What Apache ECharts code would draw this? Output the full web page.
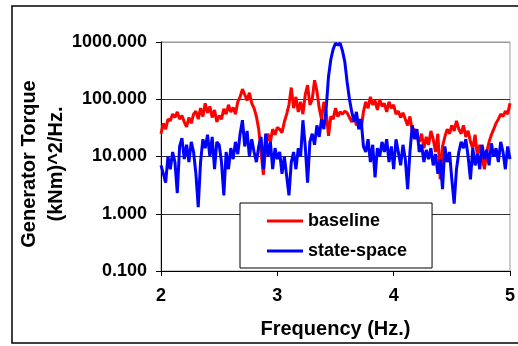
<!DOCTYPE html>
<html><head><meta charset="utf-8">
<script src="https://cdn.jsdelivr.net/npm/echarts@6/dist/echarts.min.js"></script>
<style>html,body{margin:0;padding:0;background:#fff}#c{width:518px;height:346px}</style>
</head><body><div id="c"></div>
<script>
var baseline = [25,38,30,45,42,55,48,60,45,52,40,
33,48,38,55,62,45,70,50,85,58,
75,48,65,40,52,45,68,55,80,60,
72,55,90,110,150,120,95,130,85,70,
50,30,12,4.8,15,25,18,30,24,32,
30,26,40,55,80,160,70,110,60,90,
55,120,176,80,100,215,140,70,45,90,
60,23,50,45,70,50,60,55,62,58,
48,40,52,35,45,30,60,90,70,110,
80,95,65,100,75,85,60,90,70,80,
55,62,48,58,45,35,50,28,30,22,
18,25,14,22,16,28,20,12,25,4,
15,22,30,25,35,28,42,30,25,35,
22,28,18,14,24,10,16,10,6,12,
18,24,30,38,45,55,50,62,55,85];
var stateSpace = [7,5,3.5,10,6,12,8,2.3,15,21,
9,16,8,18,12,5,1.3,8,20,14,24,
10,22,6,18,16,8,2.1,12,6,14,
9,18,11,25,43,15,28,10,20,12,
8,15,22,6,25,10,18,6,14,9,
12,5,10,4.6,2.1,8,12,6,14,10,
43,15,3.5,18,25,16,35,22,45,30,
70,250,500,750,950,880,950,700,450,200,
100,60,40,60,30,45,15,12,20,8,
16,4.3,14,10,18,12,20,8,15,6,
20,12,7,16,9,2.7,12,35,20,30,
12,16,8,13,9,14,7,11,5,9,
2.7,15,8,12,4,1.5,6,12,18,14,
20,10,4,14,7,11,6,16,9,13,
7,17,10,14,8,18,12,6,15,9];
var freqStart = 2, freqStep = 0.02;
var yTicks = [0.1, 1, 10, 100, 1000];
var xTicks = [2, 3, 4, 5];
var yTitle = ['Generator Torque', '(kNm)^2/Hz.'];
function pairs(arr){ return arr.map(function(v,i){ return [+(freqStart + i*freqStep).toFixed(3), v]; }); }
var font = '"Liberation Sans", Arial, sans-serif';
var chart = echarts.init(document.getElementById('c'));
chart.setOption({
  animation: false,
  backgroundColor: '#fff',
  graphic: [
    {type:'rect', shape:{x:12, y:6, width:520, height:337}, style:{fill:'none', stroke:'#000', lineWidth:1.5}, z:-10},
    {type:'text', x:29, y:164, rotation:Math.PI/2, style:{text:yTitle[0], fontFamily:font, fontWeight:'bold', fontSize:20, fill:'#000', textAlign:'center', textVerticalAlign:'middle'}},
    {type:'text', x:56, y:164, rotation:Math.PI/2, style:{text:yTitle[1], fontFamily:font, fontWeight:'bold', fontSize:20, fill:'#000', textAlign:'center', textVerticalAlign:'middle'}}
  ],
  grid: {left:161, right:3, top:42, bottom:75, show:true, borderColor:'#999', borderWidth:1, backgroundColor:'#fff'},
  legend: {
    orient:'vertical', left:240, top:203, icon:'rect', itemWidth:36, itemHeight:3, itemGap:10,
    padding:[8,25,7,27], backgroundColor:'#fff', borderColor:'#000', borderWidth:1,
    textStyle:{fontFamily:font, fontWeight:'bold', fontSize:18, color:'#000', lineHeight:20},
    data:[{name:'baseline', itemStyle:{color:'#ff0000'}}, {name:'state-space', itemStyle:{color:'#0000ff'}}]
  },
  xAxis: {
    type:'value', min:2, max:5, interval:1,
    name:'Frequency (Hz.)', nameLocation:'middle', nameGap:48,
    nameTextStyle:{fontFamily:font, fontWeight:'bold', fontSize:20, color:'#000'},
    axisLine:{lineStyle:{color:'#000', width:1}},
    axisTick:{show:true, length:5, lineStyle:{color:'#000'}},
    axisLabel:{fontFamily:font, fontWeight:'bold', fontSize:18, color:'#000', margin:16,
      formatter:function(v){ return xTicks.indexOf(v) >= 0 ? String(v) : ''; }},
    splitLine:{show:false}
  },
  yAxis: {
    type:'log', logBase:10, min:0.1, max:1000,
    axisLine:{show:true, lineStyle:{color:'#000', width:1}},
    axisTick:{show:true, length:5, lineStyle:{color:'#000'}},
    axisLabel:{fontFamily:font, fontWeight:'bold', fontSize:18, color:'#000', margin:14,
      formatter:function(v){ return v.toFixed(3); }},
    splitLine:{show:true, lineStyle:{color:['#000','#333','#333','#333','#999'], width:1}}
  },
  series: [
    {name:'baseline', type:'line', data:pairs(baseline), symbol:'none', lineStyle:{color:'#ff0000', width:3}, itemStyle:{color:'#ff0000'}, z:2},
    {name:'state-space', type:'line', data:pairs(stateSpace), symbol:'none', lineStyle:{color:'#0000ff', width:3}, itemStyle:{color:'#0000ff'}, z:3}
  ]
});
</script></body></html>
